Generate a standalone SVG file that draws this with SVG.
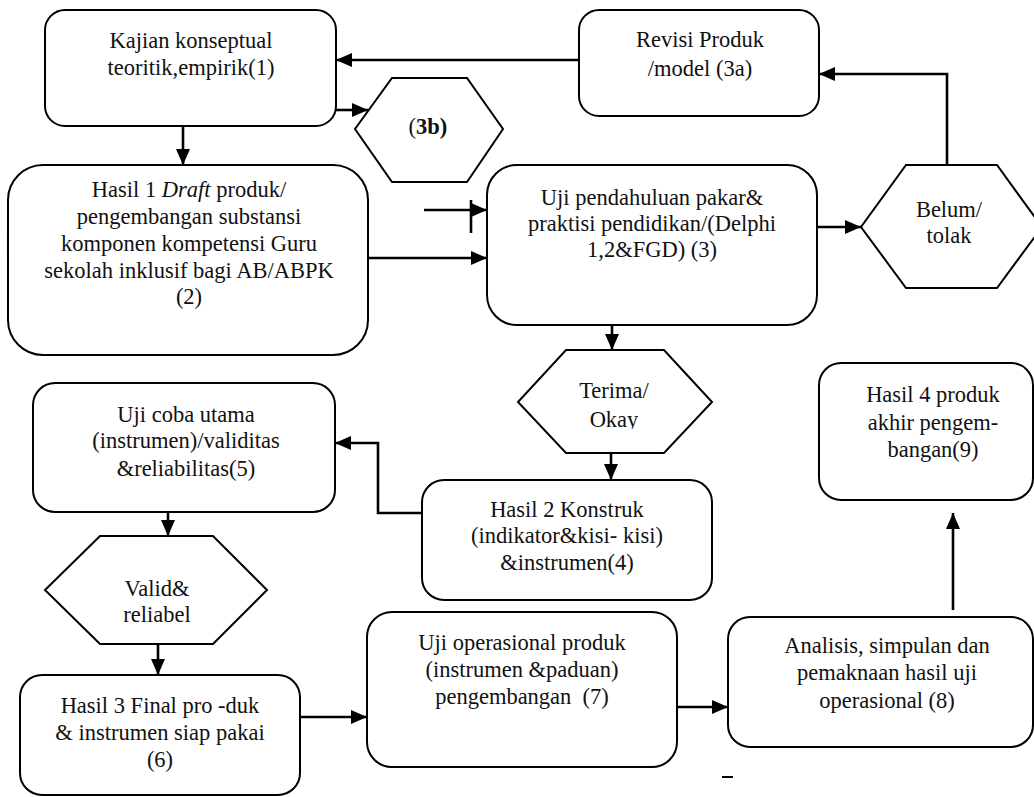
<svg xmlns="http://www.w3.org/2000/svg" width="1034" height="797" viewBox="0 0 1034 797">
<style>
.box{fill:#fff;stroke:#000;stroke-width:2}
.hex{fill:#fff;stroke:#000;stroke-width:2}
.t{font-family:"Liberation Serif","Times New Roman",serif;font-size:22.5px;fill:#111;text-anchor:middle;white-space:pre}
.c{fill:none;stroke:#000;stroke-width:2.6}
</style>
<defs>
<marker id="ah" markerUnits="userSpaceOnUse" markerWidth="16" markerHeight="14" refX="16" refY="7" orient="auto">
<path d="M0,0 L16,7 L0,14 z" fill="#000"/>
</marker>
<clipPath id="okclip"><rect x="518" y="350" width="194" height="79"/></clipPath>
</defs>
<rect width="1034" height="797" fill="#fff"/>

<g id="connectors">
<line class="c" x1="579" y1="60" x2="336" y2="60" marker-end="url(#ah)"/>
<line class="c" x1="336" y1="110" x2="368" y2="110" marker-end="url(#ah)"/>
<line class="c" x1="183" y1="126" x2="183" y2="165" marker-end="url(#ah)"/>
<line class="c" x1="424" y1="210" x2="487" y2="210" marker-end="url(#ah)"/>
<line class="c" x1="471" y1="200" x2="471" y2="233"/>
<line class="c" x1="368" y1="258" x2="487" y2="258" marker-end="url(#ah)"/>
<line class="c" x1="817" y1="227" x2="861" y2="227" marker-end="url(#ah)"/>
<polyline class="c" points="947,165 947,74 819,74" marker-end="url(#ah)"/>
<line class="c" x1="612" y1="325" x2="612" y2="350" marker-end="url(#ah)"/>
<line class="c" x1="611" y1="453" x2="611" y2="480" marker-end="url(#ah)"/>
<polyline class="c" points="422,513 378,513 378,443 335,443" marker-end="url(#ah)"/>
<line class="c" x1="168" y1="512" x2="168" y2="536" marker-end="url(#ah)"/>
<line class="c" x1="158" y1="644" x2="158" y2="675" marker-end="url(#ah)"/>
<line class="c" x1="300" y1="717" x2="367" y2="717" marker-end="url(#ah)"/>
<line class="c" x1="677" y1="707" x2="728" y2="707" marker-end="url(#ah)"/>
<line class="c" x1="953" y1="610" x2="953" y2="513" marker-end="url(#ah)"/>
<line x1="722" y1="777" x2="733" y2="777" stroke="#000" stroke-width="2"/>
</g>

<g id="n1">
<rect class="box" x="45" y="10" width="291" height="116" rx="20"/>
<text class="t" x="191" y="48">Kajian konseptual</text>
<text class="t" x="191" y="75">teoritik,empirik(1)</text>
</g>

<g id="n3a">
<rect class="box" x="579" y="10" width="240" height="106" rx="20"/>
<text class="t" x="700" y="47">Revisi Produk</text>
<text class="t" x="700" y="76">/model (3a)</text>
</g>

<g id="n3b">
<polygon class="hex" points="392,78 467,78 503,129 467,182 392,182 355,129"/>
<text class="t" x="428" y="134">(<tspan font-weight="bold">3b)</tspan></text>
</g>

<g id="n2">
<rect class="box" x="8" y="165" width="360" height="190" rx="35"/>
<text class="t" x="189" y="197">Hasil 1 <tspan font-style="italic">Draft</tspan> produk/</text>
<text class="t" x="189" y="224">pengembangan substansi</text>
<text class="t" x="189" y="251">komponen kompetensi Guru</text>
<text class="t" x="189" y="278">sekolah inklusif bagi AB/ABPK</text>
<text class="t" x="189" y="304">(2)</text>
</g>

<g id="n3">
<rect class="box" x="487" y="165" width="330" height="160" rx="30"/>
<text class="t" x="652" y="205">Uji pendahuluan pakar&amp;</text>
<text class="t" x="652" y="231">praktisi pendidikan/(Delphi</text>
<text class="t" x="652" y="257">1,2&amp;FGD) (3)</text>
</g>

<g id="nbelum">
<polygon class="hex" points="906,165 997,165 1042,227 997,288 906,288 861,227"/>
<text class="t" x="949" y="217">Belum/</text>
<text class="t" x="949" y="243">tolak</text>
</g>

<g id="nterima">
<polygon class="hex" points="566,350 664,350 712,402 664,453 566,453 518,402"/>
<text class="t" x="614" y="398">Terima/</text>
<text class="t" x="614" y="427" clip-path="url(#okclip)">Okay</text>
</g>

<g id="n9">
<rect class="box" x="819" y="363" width="214" height="137" rx="22"/>
<text class="t" x="933" y="402">Hasil 4 produk</text>
<text class="t" x="933" y="430">akhir pengem-</text>
<text class="t" x="933" y="457">bangan(9)</text>
</g>

<g id="n5">
<rect class="box" x="33" y="383" width="302" height="129" rx="22"/>
<text class="t" x="186" y="422">Uji coba utama</text>
<text class="t" x="186" y="448">(instrumen)/validitas</text>
<text class="t" x="186" y="476">&amp;reliabilitas(5)</text>
</g>

<g id="n4">
<rect class="box" x="422" y="480" width="290" height="120" rx="22"/>
<text class="t" x="567" y="517">Hasil 2 Konstruk</text>
<text class="t" x="567" y="543">(indikator&amp;kisi- kisi)</text>
<text class="t" x="567" y="570">&amp;instrumen(4)</text>
</g>

<g id="nvalid">
<polygon class="hex" points="100,536 213,536 267,590 213,644 100,644 45,590"/>
<text class="t" x="157" y="596">Valid&amp;</text>
<text class="t" x="157" y="622">reliabel</text>
</g>

<g id="n6">
<rect class="box" x="20" y="675" width="280" height="120" rx="22"/>
<text class="t" x="160" y="713">Hasil 3 Final pro -duk</text>
<text class="t" x="160" y="740">&amp; instrumen siap pakai</text>
<text class="t" x="160" y="767">(6)</text>
</g>

<g id="n7">
<rect class="box" x="367" y="612" width="310" height="155" rx="25"/>
<text class="t" x="522" y="650">Uji operasional produk</text>
<text class="t" x="522" y="677">(instrumen &amp;paduan)</text>
<text class="t" x="522" y="704">pengembangan  (7)</text>
</g>

<g id="n8">
<rect class="box" x="728" y="617" width="305" height="130" rx="22"/>
<text class="t" x="887" y="653">Analisis, simpulan dan</text>
<text class="t" x="887" y="680">pemaknaan hasil uji</text>
<text class="t" x="887" y="708">operasional (8)</text>
</g>
</svg>
